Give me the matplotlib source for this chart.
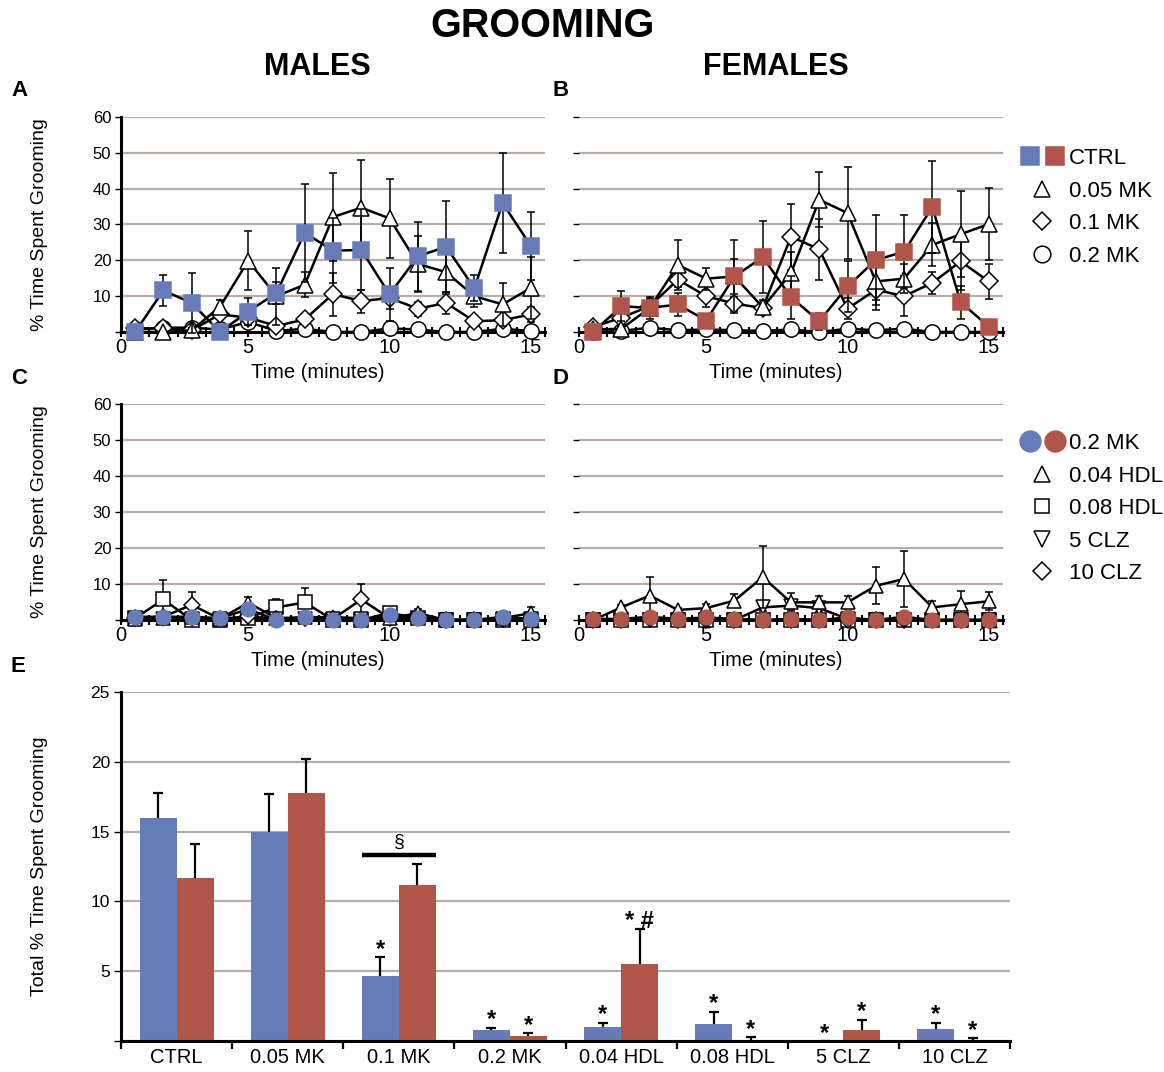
import numpy as np
import matplotlib.pyplot as plt
from matplotlib.lines import Line2D
from matplotlib.legend_handler import HandlerTuple

plt.rcParams['font.family'] = ['Liberation Sans', 'DejaVu Sans']

BLUE = '#677BB8'
RED = '#B0554A'
GRID = '#B9AEA6'

minutes = np.arange(1, 16)

# A - males, MK doses
ctrl_m = [0, 11.6, 8.1, 0, 5.7, 10.9, 27.7, 22.7, 22.9, 10.5, 21.1, 23.8, 12.2, 36.0, 24.0]
ctrl_m_err = [0, 4.4, 8.3, 0, 3.8, 3.0, 13.7, 9.0, 11.3, 7.5, 9.6, 12.7, 3.6, 13.9, 9.5]
mk05_m = [0, 0, 0.5, 7.0, 19.9, 10.0, 13.2, 32.1, 34.7, 31.7, 19.0, 16.7, 10.0, 7.7, 12.3]
mk05_m_err = [0, 0, 0.5, 2.0, 8.3, 8.0, 3.5, 12.3, 13.4, 11.0, 7.8, 6.0, 3.0, 6.0, 8.7]
mk1_m = [1.0, 1.0, 0.5, 4.9, 4.0, 1.7, 3.5, 10.6, 8.6, 9.5, 6.5, 8.1, 3.0, 3.3, 4.9]
mk1_m_err = [0.5, 0.5, 0.5, 1.0, 1.5, 1.0, 1.0, 6.0, 3.2, 3.0, 2.0, 3.0, 1.0, 1.5, 2.0]
mk2_m = [0.7, 1.2, 1.2, 0.7, 2.8, 0.3, 0.9, 0, 0, 1.0, 0.7, 0, 0, 0.9, 0.3]
mk2_m_err = [0.3, 0.5, 0.5, 0.3, 0.8, 0.2, 0.4, 0, 0, 0.5, 0.3, 0, 0, 0.4, 0.2]

# B - females, MK doses
ctrl_f = [0, 7.2, 6.7, 7.7, 3.2, 15.5, 20.9, 9.7, 3.0, 12.7, 20.1, 22.4, 34.9, 8.3, 1.5]
ctrl_f_err = [0, 4.2, 3.0, 3.3, 1.0, 10.2, 10.0, 6.0, 2.4, 7.0, 12.5, 10.2, 12.9, 4.6, 1.0]
mk05_f = [0.7, 0.9, 6.7, 18.7, 14.9, 15.5, 6.9, 16.4, 36.9, 33.2, 14.1, 14.9, 24.3, 27.3, 30.1]
mk05_f_err = [0, 0.5, 2.0, 7.0, 3.1, 5.0, 2.0, 6.0, 7.7, 12.8, 8.0, 4.0, 6.0, 12.0, 10.0]
mk1_f = [1.4, 4.0, 7.2, 14.6, 10.0, 7.9, 6.7, 26.6, 23.1, 6.5, 11.8, 10.0, 13.7, 19.7, 14.1]
mk1_f_err = [0.5, 1.0, 2.0, 2.0, 3.0, 2.0, 1.0, 9.2, 8.5, 3.0, 3.0, 5.6, 3.0, 8.0, 5.0]
mk2_f = [0, 0.3, 1.2, 0.5, 0.7, 0.5, 0.3, 0.7, 0, 0.9, 0.5, 0.9, 0, 0, 0]
mk2_f_err = [0, 0.2, 0.5, 0.3, 0.3, 0.3, 0.2, 0.3, 0, 0.4, 0.3, 0.4, 0, 0, 0]

# C - males, 0.2 MK vs haloperidol / clozapine
mk2c_m = [0.9, 0.9, 0.9, 0.5, 3.0, 0, 0.7, 0, 0, 1.4, 0.5, 0, 0, 0.9, 0.2]
mk2c_m_err = [0.3, 0.3, 0.3, 0.2, 0.8, 0, 0.3, 0, 0, 0.5, 0.2, 0, 0, 0.3, 0.1]
hdl04_m = [0.3, 0.5, 0.8, 0.3, 4.8, 0.5, 0.8, 0.8, 0.5, 0.5, 1.9, 0, 0, 0.5, 1.9]
hdl04_m_err = [0.2, 0.3, 0.5, 0.2, 1.5, 0.3, 0.4, 0.4, 0.3, 0.3, 1.1, 0, 0, 0.3, 1.8]
hdl08_m = [0.5, 5.7, 0, 0, 0.5, 3.5, 4.9, 0, 0, 2.0, 0.5, 0, 0, 0, 0]
hdl08_m_err = [0.3, 5.4, 0, 0, 0.3, 2.4, 3.9, 0, 0, 0.8, 0.3, 0, 0, 0, 0]
clz5_m = [0.3, 0.3, 0.3, 0.3, 0.8, 0.3, 0.3, 0.3, 0.3, 0.3, 0.3, 0, 0, 0.3, 0.3]
clz5_m_err = [0.2, 0.2, 0.2, 0.2, 0.4, 0.2, 0.2, 0.2, 0.2, 0.2, 0.2, 0, 0, 0.2, 0.2]
clz10_m = [0.5, 0.9, 4.2, 0.3, 1.0, 0.3, 0.5, 0.3, 5.7, 0.5, 0.8, 0, 0, 0.3, 0.5]
clz10_m_err = [0.3, 0.3, 3.7, 0.2, 0.5, 0.2, 0.3, 0.2, 4.2, 0.3, 0.5, 0, 0, 0.2, 0.3]

# D - females, 0.2 MK vs haloperidol / clozapine
mk2c_f = [0.3, 0.3, 0.9, 0.3, 0.7, 0.3, 0, 0.3, 0, 0.7, 0, 0.9, 0, 0, 0]
mk2c_f_err = [0.2, 0.2, 0.4, 0.2, 0.3, 0.2, 0, 0.2, 0, 0.3, 0, 0.4, 0, 0, 0]
hdl04_f = [0, 3.5, 6.8, 2.8, 3.3, 5.4, 11.9, 4.9, 4.9, 4.9, 9.5, 11.4, 3.5, 4.4, 5.2]
hdl04_f_err = [0, 0.8, 5.1, 0.5, 1.2, 1.8, 8.6, 2.6, 1.9, 1.8, 5.1, 7.9, 1.7, 3.6, 2.5]
hdl08_f = [0, 0, 0, 0, 0, 0, 0, 0, 0, 0, 0, 0, 0, 0, 0]
hdl08_f_err = [0, 0, 0, 0, 0, 0, 0, 0, 0, 0, 0, 0, 0, 0, 0]
clz5_f = [0, 0, 0, 0, 0, 0, 3.5, 4.0, 3.3, 0.3, 0, 0, 0, 0, 0]
clz5_f_err = [0, 0, 0, 0, 0, 0, 1.0, 1.2, 1.0, 0.2, 0, 0, 0, 0, 0]
clz10_f = [0, 0, 0.2, 0, 0, 0, 0, 0, 0, 0, 0, 0, 0, 0, 0]
clz10_f_err = [0, 0, 0.1, 0, 0, 0, 0, 0, 0, 0, 0, 0, 0, 0, 0]

# E - totals over the session
groups = ['CTRL', '0.05 MK', '0.1 MK', '0.2 MK', '0.04 HDL', '0.08 HDL', '5 CLZ', '10 CLZ']
tot_m = [16.0, 15.0, 4.64, 0.79, 1.03, 1.2, 0.0, 0.84]
tot_m_err = [1.75, 2.7, 1.36, 0.17, 0.29, 0.9, 0.0, 0.46]
tot_f = [11.7, 17.75, 11.2, 0.38, 5.5, 0.07, 0.79, 0.07]
tot_f_err = [2.4, 2.45, 1.5, 0.19, 2.5, 0.22, 0.74, 0.12]
sig_m = ['', '', '*', '*', '*', '*', '*', '*']
sig_f = ['', '', '', '*', '* #', '*', '*', '*']
sect_group = 2
sect_level = 13.3

W, H = 1164, 1072
fig = plt.figure(figsize=(W / 100, H / 100), dpi=100)


def box(l, t, r, b):
    return fig.add_axes([l / W, 1 - b / H, (r - l) / W, (b - t) / H])


def style_time(ax, left):
    ax.set_xlim(0.5, 15.5)
    ax.set_ylim(0, 60)
    ax.set_yticks(range(0, 70, 10))
    if left:
        ax.set_yticklabels([''] + [str(v) for v in range(10, 70, 10)])
    else:
        ax.set_yticklabels([])
        ax.spines['left'].set_visible(False)
    ax.yaxis.grid(True, color=GRID, lw=1.6)
    ax.set_axisbelow(True)
    ax.set_xticks([0.5, 5, 10, 15])
    ax.set_xticklabels(['0', '5', '10', '15'])
    ax.set_xticks(np.arange(0.5, 15.6, 0.5), minor=True)
    ax.tick_params(axis='x', which='both', direction='inout', length=7, width=1.5,
                   labelsize=14.5, pad=1)
    ax.tick_params(axis='y', direction='out', length=4, width=1, labelsize=12, pad=3)
    for s in ['top', 'right']:
        ax.spines[s].set_visible(False)
    ax.spines['bottom'].set_linewidth(2.2)
    ax.spines['left'].set_linewidth(2.2)
    ax.set_xlabel('Time (minutes)', fontsize=14.5)
    ax.xaxis.set_label_coords(0.465, -0.145)
    if left:
        ax.set_ylabel('% Time Spent Grooming', fontsize=14)
        ax.yaxis.set_label_coords(-0.172, 0.5)


def draw(ax, y, err, marker, face, ms, z):
    ax.errorbar(minutes, y, yerr=err, fmt='-', marker=marker, color='black', lw=1.8,
                mfc=face, mec='black' if face == 'white' else face, mew=1.1, ms=ms,
                ecolor='black', elinewidth=1.1, capsize=3, capthick=1.1, zorder=z,
                clip_on=False)


axA = box(121, 117, 545, 332)
axB = box(579, 117, 1003, 332)
axC = box(121, 404, 545, 620)
axD = box(579, 404, 1003, 620)

for ax, left in [(axA, True), (axB, False), (axC, True), (axD, False)]:
    style_time(ax, left)

draw(axA, mk2_m, mk2_m_err, 'o', 'white', 11, 3)
draw(axA, mk1_m, mk1_m_err, 'D', 'white', 9, 4)
draw(axA, mk05_m, mk05_m_err, '^', 'white', 12, 5)
draw(axA, ctrl_m, ctrl_m_err, 's', BLUE, 12, 6)

draw(axB, mk2_f, mk2_f_err, 'o', 'white', 11, 3)
draw(axB, mk1_f, mk1_f_err, 'D', 'white', 9, 4)
draw(axB, mk05_f, mk05_f_err, '^', 'white', 12, 5)
draw(axB, ctrl_f, ctrl_f_err, 's', RED, 12, 6)

draw(axC, hdl08_m, hdl08_m_err, 's', 'white', 10, 3)
draw(axC, clz5_m, clz5_m_err, 'v', 'white', 10, 4)
draw(axC, clz10_m, clz10_m_err, 'D', 'white', 8, 5)
draw(axC, hdl04_m, hdl04_m_err, '^', 'white', 10, 6)
draw(axC, mk2c_m, mk2c_m_err, 'o', BLUE, 10.5, 7)

draw(axD, hdl08_f, hdl08_f_err, 's', 'white', 10, 3)
draw(axD, clz10_f, clz10_f_err, 'D', 'white', 8, 4)
draw(axD, clz5_f, clz5_f_err, 'v', 'white', 10, 5)
draw(axD, hdl04_f, hdl04_f_err, '^', 'white', 10, 6)
draw(axD, mk2c_f, mk2c_f_err, 'o', RED, 10.5, 7)

# panel E: totals
axE = box(121, 692, 1010, 1041)
x = np.arange(len(groups))
w = 0.333
zeros = np.zeros(len(groups))
axE.bar(x - w / 2, tot_m, w, color=BLUE, zorder=2)
axE.bar(x + w / 2, tot_f, w, color=RED, zorder=2)
for xs, ys, es in [(x - w / 2, tot_m, tot_m_err), (x + w / 2, tot_f, tot_f_err)]:
    eb = axE.errorbar(xs, ys, yerr=[zeros, es], fmt='none', ecolor='black',
                      elinewidth=1.6, capsize=3.5, capthick=1.6, zorder=3)
    eb[1][0].set_visible(False)  # no cap on the bar top
for i in range(len(groups)):
    if sig_m[i]:
        axE.text(x[i] - w / 2, tot_m[i] + tot_m_err[i] + 0.1, sig_m[i], ha='center',
                 va='baseline', fontsize=17, fontweight='bold')
    if sig_f[i]:
        axE.text(x[i] + w / 2, tot_f[i] + tot_f_err[i] + 0.1, sig_f[i], ha='center',
                 va='baseline', fontsize=17, fontweight='bold')
axE.plot([sect_group - w, sect_group + w], [sect_level, sect_level], color='black', lw=3.2,
         solid_capstyle='butt', zorder=3)
axE.text(sect_group, sect_level + 0.35, '§', ha='center', va='bottom', fontsize=14)

axE.set_xlim(-0.5, len(groups) - 0.5)
axE.set_ylim(0, 25)
axE.set_yticks(range(0, 30, 5))
axE.set_yticklabels([''] + [str(v) for v in range(5, 30, 5)])
axE.yaxis.grid(True, color=GRID, lw=1.6)
axE.set_axisbelow(True)
axE.set_xticks(x)
axE.set_xticklabels(groups)
axE.set_xticks(np.arange(-0.5, len(groups), 1), minor=True)
axE.tick_params(axis='x', which='major', length=0, labelsize=14.5, pad=5)
axE.tick_params(axis='x', which='minor', direction='out', length=6, width=1.6)
axE.tick_params(axis='y', direction='out', length=5, width=1, labelsize=12.5, pad=3)
for s in ['top', 'right']:
    axE.spines[s].set_visible(False)
axE.spines['bottom'].set_linewidth(2.2)
axE.spines['left'].set_linewidth(2.2)
axE.set_ylabel('Total % Time Spent Grooming', fontsize=14)
axE.yaxis.set_label_coords(-0.082, 0.5)

# headings and panel letters
fig.text(543 / W, 1 - 26 / H, 'GROOMING', ha='center', va='center', fontsize=28.5, fontweight='bold')
fig.text(317 / W, 1 - 67 / H, 'MALES', ha='center', va='center', fontsize=22, fontweight='bold')
fig.text(776 / W, 1 - 67 / H, 'FEMALES', ha='center', va='center', fontsize=22, fontweight='bold')
for letter, lx, ly in [('A', 11, 90), ('B', 552, 90), ('C', 11, 378), ('D', 552, 378), ('E', 11, 667)]:
    fig.text(lx / W, 1 - ly / H, letter, ha='left', va='center', fontsize=16, fontweight='bold')

# legends
def mk(marker, face, ms):
    return Line2D([], [], ls='none', marker=marker, mfc=face,
                  mec='black' if face == 'white' else face, mew=1.1, ms=ms)


leg_kw = dict(handler_map={tuple: HandlerTuple(ndivide=None, pad=0.1)}, loc='upper left',
              frameon=False, fontsize=16, handlelength=2.2, handletextpad=0.1,
              labelspacing=0.52, borderpad=0, borderaxespad=0)
fig.legend([(mk('s', BLUE, 13), mk('s', RED, 13)), mk('^', 'white', 11),
            mk('D', 'white', 9), mk('o', 'white', 12)],
           ['CTRL', '0.05 MK', '0.1 MK', '0.2 MK'],
           bbox_to_anchor=(1018 / W, 1 - 148 / H), **leg_kw)
fig.legend([(mk('o', BLUE, 15), mk('o', RED, 15)), mk('^', 'white', 11),
            mk('s', 'white', 10), mk('v', 'white', 11), mk('D', 'white', 9)],
           ['0.2 MK', '0.04 HDL', '0.08 HDL', '5 CLZ', '10 CLZ'],
           bbox_to_anchor=(1018 / W, 1 - 433 / H), **leg_kw)

fig.savefig('out.png', dpi=100)
